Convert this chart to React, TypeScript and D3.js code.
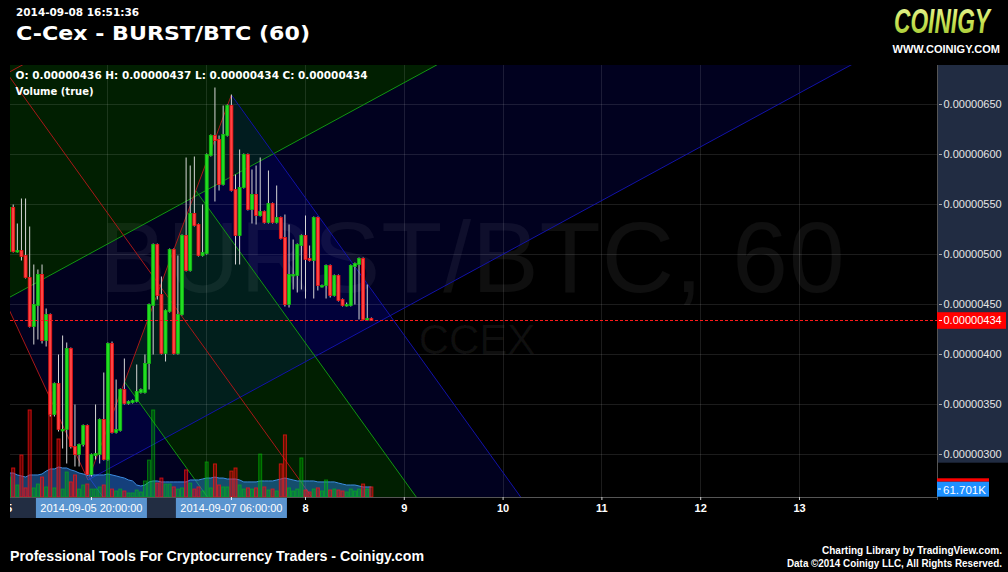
import React from "react";
import * as d3 from "d3";

// Hourly bars from 2014-09-05 00:00 UTC, prices in satoshi (1e-8 BTC)
const START = Date.UTC(2014, 8, 5);
const HOUR = 3600 * 1000;
const at = (h: number) => new Date(START + h * HOUR);

const opens = [
  503, 547, 503, 504, 499, 477, 428, 449, 480, 414,
  440, 340, 371, 324, 325, 406, 308, 300, 310, 329,
  280, 299, 300, 335, 295, 411, 322, 324, 365, 351,
  352, 353, 362, 362, 391, 449, 510, 460, 401, 443,
  505, 401, 440, 519, 484, 541, 530, 499, 501, 599,
  619, 615, 570, 619, 649, 565, 519, 567, 600, 545,
  560, 539, 543, 532, 551, 532, 537, 517, 450, 479,
  479, 509, 519, 496, 494, 537, 468, 469, 489, 459,
  479, 455, 449, 449, 488, 490, 496, 435, 436,
];
const highs = [
  550, 550, 531, 556, 556, 528, 490, 485, 490, 446,
  441, 372, 400, 419, 412, 407, 350, 311, 330, 330,
  301, 350, 336, 382, 412, 413, 375, 366, 396, 354,
  355, 390, 366, 400, 451, 511, 511, 478, 445, 506,
  506, 499, 520, 597, 589, 598, 531, 550, 601, 620,
  667, 619, 649, 650, 660, 580, 605, 601, 601, 585,
  589, 597, 544, 584, 552, 569, 538, 540, 530, 515,
  511, 520, 539, 509, 538, 538, 470, 490, 490, 480,
  480, 456, 452, 490, 492, 497, 497, 470, 437,
];
const lows = [
  500, 502, 502, 494, 476, 427, 410, 415, 411, 408,
  338, 338, 323, 306, 291, 306, 288, 288, 308, 279,
  278, 295, 291, 294, 294, 321, 321, 323, 350, 350,
  351, 352, 361, 361, 365, 400, 455, 400, 393, 442,
  400, 400, 439, 483, 483, 528, 498, 498, 500, 598,
  553, 564, 569, 618, 563, 490, 490, 566, 544, 531,
  530, 538, 531, 531, 531, 531, 515, 448, 447, 465,
  462, 465, 456, 493, 456, 464, 467, 456, 457, 458,
  453, 448, 448, 448, 450, 435, 434, 434, 434,
];
const closes = [
  547, 503, 504, 498, 477, 428, 450, 480, 414, 440,
  340, 371, 325, 325, 406, 308, 300, 310, 329, 280,
  300, 301, 335, 295, 411, 322, 325, 365, 351, 353,
  354, 363, 365, 391, 450, 510, 459, 401, 444, 505,
  401, 440, 519, 484, 541, 529, 499, 502, 600, 619,
  614, 570, 620, 649, 564, 519, 567, 600, 545, 560,
  539, 543, 532, 551, 532, 537, 516, 450, 480, 480,
  510, 519, 495, 494, 537, 469, 469, 489, 459, 479,
  454, 449, 450, 489, 491, 496, 435, 436, 434,
];
// Volume per bar and its moving average, in thousands
const volumes = [
  123, 179, 74, 259, 56, 537, 56, 80, 123, 62,
  648, 56, 358, 49, 154, 93, 136, 49, 74, 80,
  49, 49, 62, 74, 247, 49, 37, 49, 37, 25,
  25, 43, 31, 99, 228, 537, 86, 117, 80, 80,
  62, 49, 56, 167, 86, 49, 62, 37, 216, 56,
  204, 74, 62, 62, 160, 179, 74, 49, 56, 49,
  56, 265, 62, 43, 49, 37, 204, 383, 56, 37,
  49, 241, 43, 31, 49, 56, 37, 105, 43, 49,
  43, 37, 31, 49, 37, 49, 80, 49, 62,
];
const volumeMA = [
  148, 148, 136, 130, 123, 136, 136, 136, 142, 160,
  173, 173, 185, 179, 179, 167, 160, 148, 142, 136,
  136, 136, 136, 136, 142, 136, 130, 123, 117, 105,
  99, 74, 68, 74, 93, 99, 99, 93, 93, 93,
  93, 93, 93, 93, 105, 105, 105, 111, 117, 117,
  123, 117, 117, 111, 111, 111, 105, 93, 93, 93,
  93, 99, 99, 99, 99, 105, 111, 117, 111, 105,
  99, 99, 99, 99, 99, 93, 93, 93, 93, 93,
  86, 80, 74, 74, 74, 68, 62, 62, 61.701,
];

const priceTicks = [300, 350, 400, 450, 500, 550, 600, 650];
// Pitchfork anchors: [hours since start, price]
const fallingFork = [[-3.38, 697.6], [54, 659.5], [19.41, 277]];
const risingFork = [[-57.79, 552.9], [-61.87, 994.5], [19.17, 274.5]];
const forkLevels = [0.5, 1];
// Times highlighted on the time axis for the selected drawing
const markedHours = [20, 54];

const PL = 10, PR = 937, PT = 65, PB = 497;
const fmtPrice = (p: number) => (p * 1e-8).toFixed(8);
const fmtMark = d3.utcFormat("%Y-%m-%d %H:%M:%S");

const RED_LINE = "#a81818";
const GREEN_LINE = "#119611";
const BLUE_LINE = "#1212a8";

function Fork({ pts, x, y }: { pts: number[][]; x: any; y: any }) {
  const [a, b, c] = pts.map(([h, p]) => [x(at(h)), y(p)]);
  const m = [(b[0] + c[0]) / 2, (b[1] + c[1]) / 2];
  const len = Math.hypot(m[0] - a[0], m[1] - a[1]);
  const ux = (m[0] - a[0]) / len, uy = (m[1] - a[1]) / len;
  const far = 5000;
  const ext = (p: number[]) => [p[0] + ux * far, p[1] + uy * far];
  const lvl = (l: number, s: number[]) => [m[0] + l * (s[0] - m[0]), m[1] + l * (s[1] - m[1])];
  const pt = (p: number[]) => `${p[0].toFixed(2)},${p[1].toFixed(2)}`;
  const band = (p: number[], q: number[]) => `M${pt(p)}L${pt(q)}L${pt(ext(q))}L${pt(ext(p))}Z`;
  const seg = (p: number[], q: number[]) => `M${pt(p)}L${pt(q)}`;
  const fills: React.ReactNode[] = [];
  const lines: React.ReactNode[] = [];
  [b, c].forEach((side, si) => {
    let prev = m;
    forkLevels.forEach((l, li) => {
      const cur = lvl(l, side);
      fills.push(
        <path key={`f${si}${li}`} d={band(prev, cur)}
          fill={li === 0 ? "rgb(10,255,10)" : "rgb(10,10,255)"} fillOpacity={0.12} />
      );
      lines.push(
        <path key={`l${si}${li}`} d={seg(cur, ext(cur))}
          stroke={li === 0 ? GREEN_LINE : BLUE_LINE} strokeWidth={1} fill="none" />
      );
      prev = cur;
    });
  });
  lines.push(<path key="median" d={seg(a, ext(m))} stroke={RED_LINE} strokeWidth={1} fill="none" />);
  lines.push(<path key="base" d={seg(b, c)} stroke={RED_LINE} strokeWidth={1} fill="none" />);
  return { fills, lines };
}

export default function App() {
  const x = d3.scaleUtc().domain([at(0.2186), at(225.4)]).range([PL, PR]);
  const y = d3.scaleLinear().domain([300, 650]).range([454.5, 104.5]);
  const yVol = d3.scaleLinear().domain([0, 700]).range([PB, PB - 700 / 6.17]);

  const bars = opens.map((o, i) => ({
    t: at(i), o, h: highs[i], l: lows[i], c: closes[i], v: volumes[i], ma: volumeMA[i],
  }));
  const last = bars[bars.length - 1];
  const days = d3.utcDay.range(at(0), at(216));

  const falling = Fork({ pts: fallingFork, x, y });
  const rising = Fork({ pts: risingFork, x, y });

  const maArea = d3.area<any>().x((d) => x(d.t)).y0(PB).y1((d) => yVol(d.ma))(bars) || "";
  const maLine = d3.line<any>().x((d) => x(d.t)).y((d) => yVol(d.ma))(bars) || "";

  const markBoxes = markedHours.map((h) => ({ cx: x(at(h)), label: fmtMark(at(h)) }));
  const boxW = 111;
  const bandRight = Math.max(...markBoxes.map((b) => b.cx + boxW / 2));

  const legend = `O: ${fmtPrice(last.o)} H: ${fmtPrice(last.h)} L: ${fmtPrice(last.l)} C: ${fmtPrice(last.c)}`;
  const ma = volumeMA[volumeMA.length - 1];

  return (
    <svg width={1008} height={572} style={{ position: "absolute", left: 0, top: 0, display: "block" }}
      fontFamily="'Liberation Sans', Arial, sans-serif">
      <defs>
        <clipPath id="plotClip"><rect x={PL} y={PT} width={PR - PL} height={PB - PT} /></clipPath>
        <clipPath id="timeClip"><rect x={PL} y={PB} width={PR - PL} height={30} /></clipPath>
        <linearGradient id="logoGrad" x1="0" y1="0" x2="0" y2="1">
          <stop offset="0" stopColor="#f1f9b4" />
          <stop offset="0.45" stopColor="#cfe65a" />
          <stop offset="1" stopColor="#98c02a" />
        </linearGradient>
      </defs>
      <rect x={0} y={0} width={1008} height={572} fill="#000" />

      {/* header */}
      <text x={16} y={15.5} fill="#fff" fontFamily="'DejaVu Sans', sans-serif" fontWeight="bold" fontSize={11}
        textLength={123} lengthAdjust="spacingAndGlyphs">2014-09-08 16:51:36</text>
      <text x={16} y={39.5} fill="#fff" fontFamily="'DejaVu Sans', sans-serif" fontWeight="bold" fontSize={20}
        textLength={294} lengthAdjust="spacingAndGlyphs">C-Cex - BURST/BTC (60)</text>
      <text transform="translate(894,33.3) scale(1,1.38)" fill="url(#logoGrad)" fontWeight="bold" fontStyle="italic"
        fontSize={26} textLength={96} lengthAdjust="spacingAndGlyphs">COINIGY</text>
      <text x={892.5} y={52.7} fill="#fff" fontWeight="bold" fontSize={10}
        textLength={107.5} lengthAdjust="spacingAndGlyphs">WWW.COINIGY.COM</text>

      {/* plot */}
      <g clipPath="url(#plotClip)">
        {rising.fills}
        {falling.fills}
        <text x={472} y={292} textAnchor="middle" fontSize={100} fill="#fff" fillOpacity={0.06}
          textLength={745} lengthAdjust="spacing">BURST/BTC, 60</text>
        <text x={477} y={354} textAnchor="middle" fontSize={42} fill="#fff" fillOpacity={0.06}>CCEX</text>
        {days.map((d) => (
          <line key={+d} x1={x(d)} x2={x(d)} y1={PT} y2={PB} stroke="#fff" strokeOpacity={0.11} shapeRendering="crispEdges" />
        ))}
        {priceTicks.map((p) => (
          <line key={p} x1={PL} x2={PR} y1={y(p)} y2={y(p)} stroke="#fff" strokeOpacity={0.11} shapeRendering="crispEdges" />
        ))}
        {rising.lines}
        {falling.lines}

        {/* volume */}
        <path d={maArea} fill="rgb(40,125,215)" fillOpacity={0.5} />
        <path d={maLine} fill="none" stroke="rgb(60,140,225)" strokeWidth={1} />
        {bars.map((d, i) => {
          const up = d.c >= d.o;
          return (
            <rect key={`v${i}`} x={x(d.t) - 1.5} width={3} y={yVol(d.v)} height={PB - yVol(d.v)}
              fill={up ? "rgb(0,200,0)" : "rgb(255,0,0)"} fillOpacity={up ? 0.3 : 0.38}
              stroke={up ? "rgb(0,210,0)" : "rgb(255,20,20)"} strokeOpacity={up ? 0.5 : 0.7} strokeWidth={1} />
          );
        })}

        {/* candles */}
        {bars.map((d, i) => {
          const up = d.c >= d.o;
          const cx = x(d.t);
          const top = y(Math.max(d.o, d.c));
          const bh = Math.max(1.5, y(Math.min(d.o, d.c)) - top);
          return (
            <g key={`c${i}`}>
              <line x1={cx} x2={cx} y1={y(d.h)} y2={y(d.l)} stroke="#d6d6d6" strokeWidth={1} />
              <rect x={cx - 1.5} width={3} y={top} height={bh}
                fill={up ? "#22dd22" : "#ff4444"} stroke={up ? "#12b812" : "#e81010"} strokeWidth={0.8} />
            </g>
          );
        })}
        <line x1={PL} x2={PR} y1={y(last.c)} y2={y(last.c)} stroke="#ff1a1a" strokeWidth={1} strokeDasharray="3,2" />
        <text x={15.5} y={79} fill="#fff" fontFamily="'DejaVu Sans', sans-serif" fontWeight="bold" fontSize={10}
          textLength={352} lengthAdjust="spacingAndGlyphs">{legend}</text>
        <text x={15.5} y={94.5} fill="#fff" fontFamily="'DejaVu Sans', sans-serif" fontWeight="bold" fontSize={10}>Volume (true)</text>
      </g>

      {/* price axis */}
      <rect x={PR} y={PT} width={1008 - PR} height={462.7 - PT} fill="#212c42" />
      <line x1={PR + 0.5} x2={PR + 0.5} y1={PT} y2={500} stroke="#555" />
      {priceTicks.map((p) => (
        <g key={`t${p}`}>
          <line x1={939} x2={942} y1={y(p)} y2={y(p)} stroke="#aaa" />
          <text x={943.5} y={y(p)} dy="0.35em" fill="#e6e6e6" fontSize={11}>{fmtPrice(p)}</text>
        </g>
      ))}
      <rect x={PR} y={y(last.c) - 8.3} width={69} height={16.6} fill="#ff0000" />
      <line x1={939} x2={942} y1={y(last.c)} y2={y(last.c)} stroke="#fff" />
      <text x={943.5} y={y(last.c)} dy="0.35em" fill="#fff" fontSize={11}>{fmtPrice(last.c)}</text>
      <rect x={PR} y={478.3} width={52} height={3.4} fill="#ff0000" />
      <rect x={PR} y={481.7} width={52} height={15} fill="#1e90ff" />
      <line x1={938} x2={941} y1={yVol(ma) + 2} y2={yVol(ma) + 2} stroke="#fff" />
      <text x={943} y={489.5} dy="0.35em" fill="#fff" fontSize={11.5}>{`${ma.toFixed(3)}K`}</text>

      {/* time axis */}
      <line x1={PL} x2={PR} y1={PB + 0.5} y2={PB + 0.5} stroke="#555" />
      <g clipPath="url(#timeClip)">
        <rect x={PL} y={498} width={bandRight - PL} height={20} fill="#222d42" />
        {days
          .filter((d) => !markBoxes.some((b) => Math.abs(x(d) - b.cx) < boxW / 2 + 6))
          .map((d) => (
            <g key={`d${+d}`}>
              <line x1={x(d)} x2={x(d)} y1={PB} y2={PB + 3} stroke="#ccc" />
              <text x={x(d)} y={511.5} textAnchor="middle" fill="#fff" fontWeight="bold" fontSize={11}>
                {d3.utcFormat("%-d")(d)}
              </text>
            </g>
          ))}
        {markBoxes.map((b) => (
          <g key={b.label}>
            <rect x={b.cx - boxW / 2} y={498} width={boxW} height={20} fill="#5a94cf" />
            <line x1={b.cx} x2={b.cx} y1={PB} y2={PB + 3} stroke="#fff" />
            <text x={b.cx} y={511.5} textAnchor="middle" fill="#fff" fontSize={11}>{b.label}</text>
          </g>
        ))}
      </g>

      {/* footer */}
      <text x={10} y={561} fill="#fff" fontWeight="bold" fontSize={14}
        textLength={414} lengthAdjust="spacingAndGlyphs">Professional Tools For Cryptocurrency Traders - Coinigy.com</text>
      <text x={1002} y={553.5} textAnchor="end" fill="#fff" fontWeight="bold" fontSize={10}
        textLength={180} lengthAdjust="spacingAndGlyphs">Charting Library by TradingView.com.</text>
      <text x={1002} y={566.5} textAnchor="end" fill="#fff" fontWeight="bold" fontSize={10}
        textLength={215} lengthAdjust="spacingAndGlyphs">Data ©2014 Coinigy LLC, All Rights Reserved.</text>
    </svg>
  );
}
